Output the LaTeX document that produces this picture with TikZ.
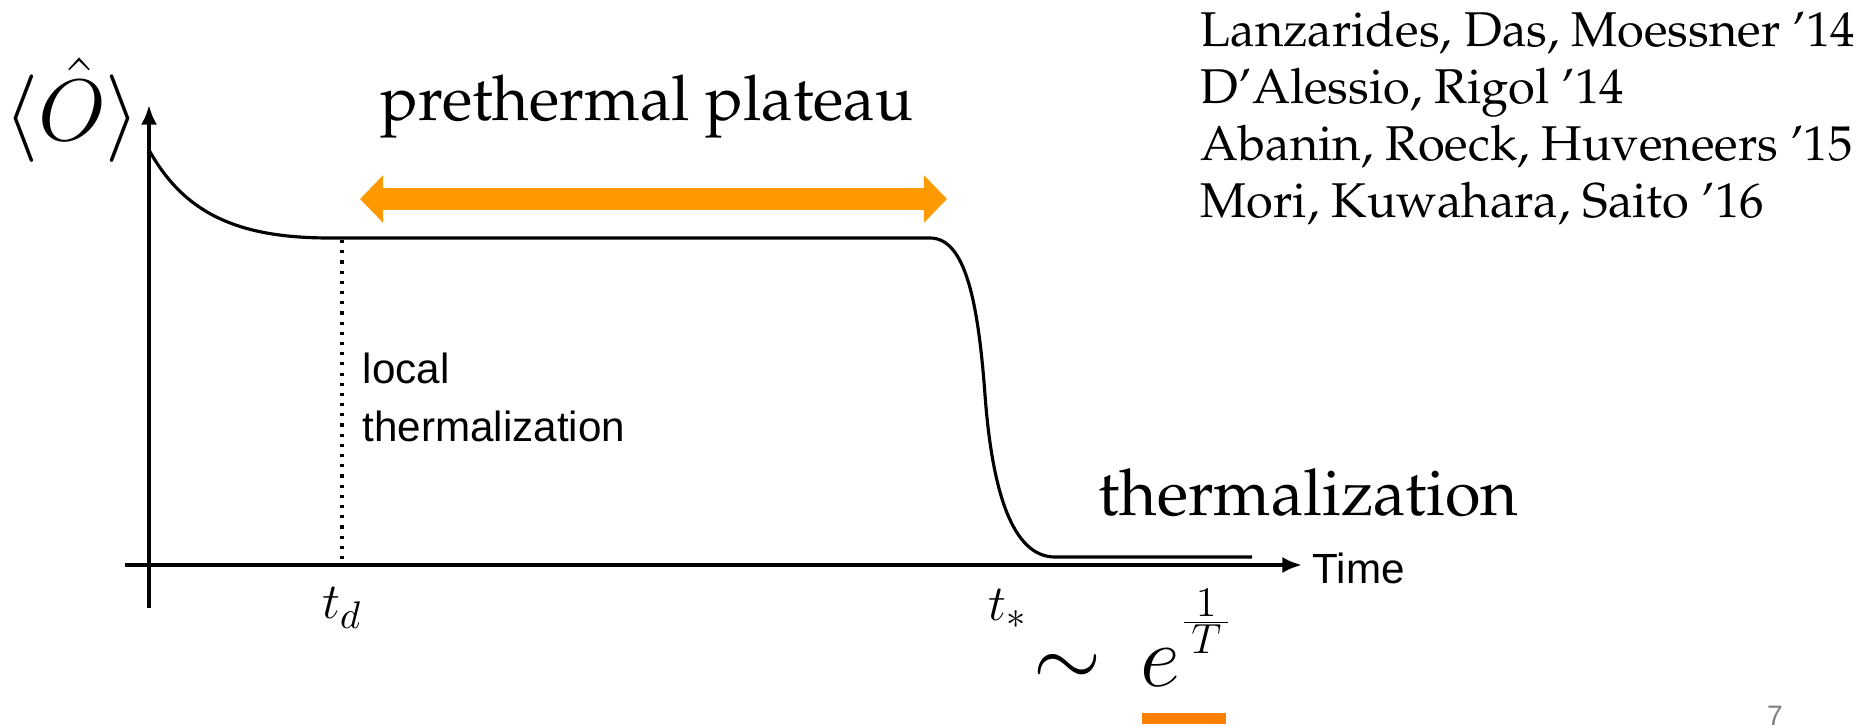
\documentclass[tikz,border=0pt]{standalone}
\usepackage{fontspec}
\usepackage{amsmath}
\usetikzlibrary{arrows.meta}
\newfontfamily\arialfont{Liberation Sans}
\newcommand{\palfont}{\fontencoding{OT1}\fontfamily{ppl}\selectfont}
\definecolor{plateauorange}{RGB}{255,153,0}
\definecolor{barorange}{RGB}{255,128,0}

\begin{document}
\begin{tikzpicture}[
    x=0.1mm, y=-0.1mm,
    axis/.style={line width=1.1pt, -{Latex[length=5.6pt, width=4.6pt]}},
    curve/.style={line width=0.9pt},
    slidetext/.style={inner sep=0pt, font=\palfont\fontsize{17.9}{21}\selectfont},
    reftext/.style={inner sep=0pt, align=left, font=\palfont\fontsize{13.9}{16.2}\selectfont},
    figlabel/.style={inner sep=0pt, font=\arialfont\fontsize{12}{16.5}\selectfont}
  ]
    \useasboundingbox (0,0) rectangle (1870,724);

    % axes
    \coordinate (xstart) at (125,565);
    \coordinate (xend) at (1302,565);
    \coordinate (ystart) at (149,608);
    \coordinate (yend) at (149,105);
    \draw[axis] (xstart) -- (xend);
    \draw[axis] (ystart) -- (yend);

    % relaxation curve
    \draw[curve] (149,150) .. controls (185,215) and (240,238) .. (330,238) -- (930,238)
        .. controls (965,238) and (978,300) .. (985,395)
        .. controls (992,490) and (1012,557) .. (1055,557) -- (1252,557);

    \coordinate (tdtop) at (342,240);
    \coordinate (tdbottom) at (342,562);
    \draw[dotted, line width=0.9pt] (tdtop) -- (tdbottom);

    % plateau arrow
    \coordinate (plateauL) at (360,199);
    \coordinate (plateauR) at (947,199);
    \draw[plateauorange, line width=6.3pt,
          {Triangle[length=6.6pt, width=13.2pt]}-{Triangle[length=6.6pt, width=13.2pt]}]
        (plateauL) -- (plateauR);

    \node[anchor=base, inner sep=0pt, font=\fontsize{24}{28}\selectfont] (obs) at (72,141) {$\langle\hat{O}\rangle$};
    \node[slidetext, anchor=base west] (prethermal) at (380,121) {prethermal plateau};
    \node[slidetext, anchor=base west, font=\palfont\fontsize{18.4}{21}\selectfont] (therm) at (1098,515) {thermalization};
    \node[reftext, anchor=north west] (refs) at (1200,10) {Lanzarides, Das, Moessner '14\\
        D'Alessio, Rigol '14\\ Abanin, Roeck, Huveneers '15\\ Mori, Kuwahara, Saito '16};

    \node[figlabel, anchor=north west, align=left] (localtherm) at (362,352) {local\\thermalization};
    \node[figlabel, anchor=base west] (time) at (1312,583) {Time};
    \node[font=\fontsize{15}{18}\selectfont] (td) at (342,608) {$t_d$};
    \node[font=\fontsize{15}{18}\selectfont] (tstar) at (1008,609) {$t_*$};
    \node[anchor=base west, inner sep=0pt, font=\fontsize{24.4}{30}\selectfont] (scaling) at (1033,686)
        {${\sim}\hspace{0.45em}e^{\raisebox{6pt}{$\scriptscriptstyle\frac{1}{\,T\,}$}}$};

    \fill[barorange] (1142,713) rectangle (1226,724);
    \node[anchor=north, inner sep=0pt, text=gray, font=\arialfont\fontsize{8}{10}\selectfont] (pagenum) at (1775,705) {7};
  \end{tikzpicture}
\end{document}
